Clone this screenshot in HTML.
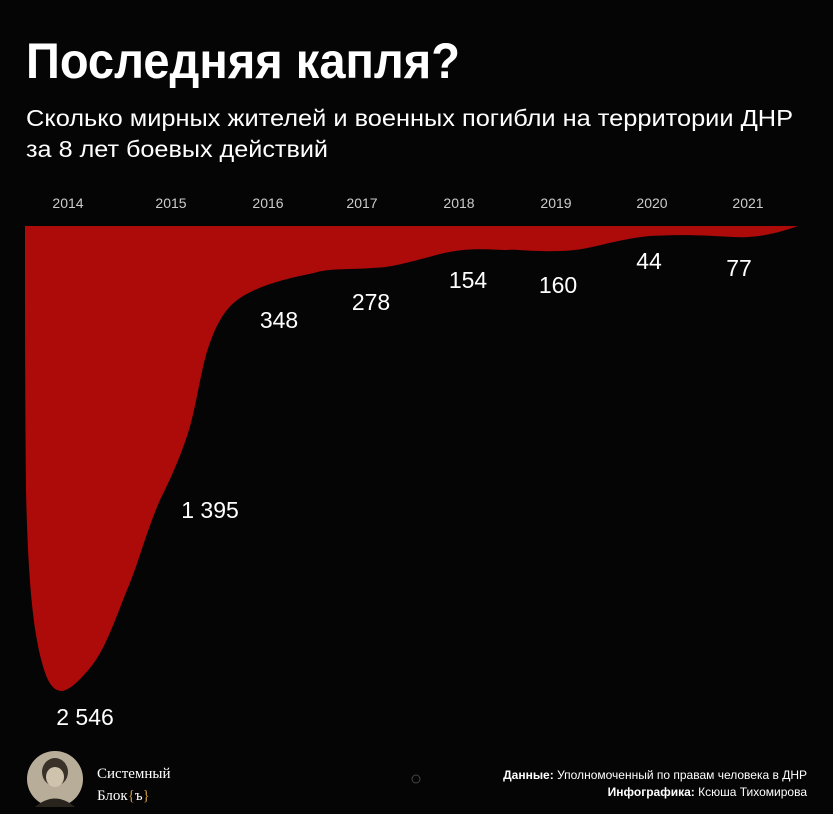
<!DOCTYPE html>
<html><head><meta charset="utf-8"><style>
html,body{margin:0;padding:0;background:#050505;width:833px;height:814px;overflow:hidden}
svg{display:block}
text{font-family:"Liberation Sans","DejaVu Sans",sans-serif;fill:#fff}
</style></head><body>
<svg width="833" height="814" viewBox="0 0 833 814">
<rect width="833" height="814" fill="#050505"/>
<text x="26" y="78" font-size="50" font-weight="bold" textLength="434" lengthAdjust="spacingAndGlyphs">Последняя капля?</text>
<text x="26" y="126" font-size="23" textLength="767" lengthAdjust="spacingAndGlyphs">Сколько мирных жителей и военных погибли на территории ДНР</text>
<text x="26" y="157" font-size="23" textLength="302" lengthAdjust="spacingAndGlyphs">за 8 лет боевых действий</text>
<g font-size="14" text-anchor="middle">
<text x="68" y="208" style="fill:#ccc">2014</text>
<text x="171" y="208" style="fill:#ccc">2015</text>
<text x="268" y="208" style="fill:#ccc">2016</text>
<text x="362" y="208" style="fill:#ccc">2017</text>
<text x="459" y="208" style="fill:#ccc">2018</text>
<text x="556" y="208" style="fill:#ccc">2019</text>
<text x="652" y="208" style="fill:#ccc">2020</text>
<text x="748" y="208" style="fill:#ccc">2021</text>
</g>
<path fill="#ad0a0a" d="M25,226 L798,226 C770,236 750,238 734,237 C710,236 690,234 650,236 C610,240 590,251 559,251 C530,252 520,249 505,250 C480,249 465,248 440,254 C410,262 390,268 372,268 C345,270 330,268 314,273 C285,279 260,285 240,298 C225,308 215,325 206,355 C198,385 195,415 185,442 C178,462 170,480 160,500 C145,535 138,565 127,590 C115,620 105,650 90,668 C80,680 70,690 62,691 C50,691 45,675 40,655 C33,625 28,580 26,490 C25,400 25,300 25,226 Z"/>
<g font-size="23" text-anchor="middle">
<text x="85" y="725">2 546</text>
<text x="210" y="518">1 395</text>
<text x="279" y="328">348</text>
<text x="371" y="310">278</text>
<text x="468" y="288">154</text>
<text x="558" y="293">160</text>
<text x="649" y="269">44</text>
<text x="739" y="276">77</text>
</g>
<ellipse cx="55" cy="779" rx="28" ry="28" fill="#b8ad98"/>
<ellipse cx="55" cy="772" rx="13" ry="14" fill="#3a3128"/>
<ellipse cx="55" cy="777" rx="9" ry="10" fill="#cfc3ad"/>
<path d="M35,807 Q55,790 75,807 Z" fill="#2a241e"/>
<text x="97" y="778" font-size="15" style="font-family:'Liberation Serif',serif">Системный</text>
<text x="97" y="800" font-size="15" style="font-family:'Liberation Serif',serif">Блок<tspan style="fill:#c79a3a">{</tspan>ъ<tspan style="fill:#c79a3a">}</tspan></text>
<circle cx="416" cy="779" r="4" fill="none" stroke="#444" stroke-width="1"/>
<g font-size="12" text-anchor="end">
<text x="807" y="779"><tspan font-weight="bold">Данные:</tspan> Уполномоченный по правам человека в ДНР</text>
<text x="807" y="796"><tspan font-weight="bold">Инфографика:</tspan> Ксюша Тихомирова</text>
</g>
</svg>
</body></html>
